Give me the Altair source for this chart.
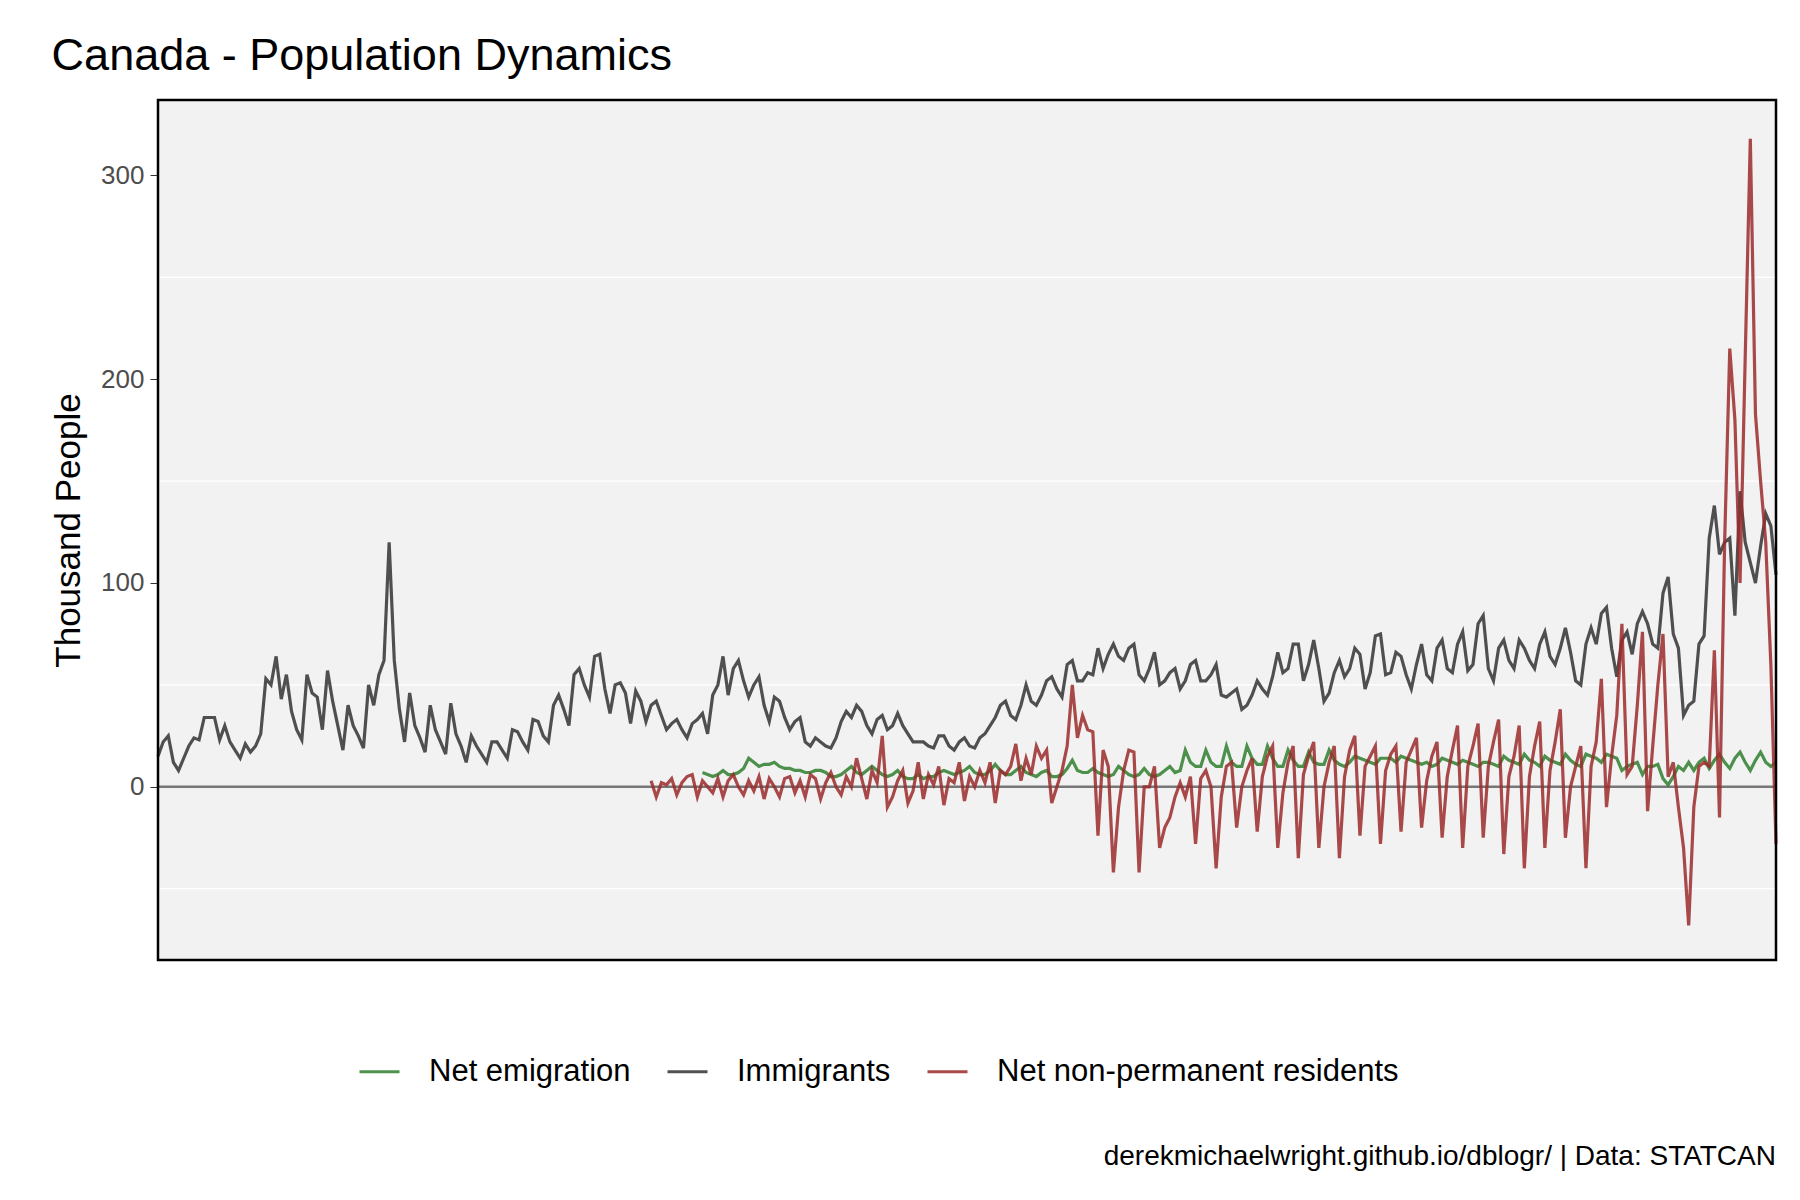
import altair as alt
import pandas as pd

immigrants = [15, 22, 25, 12, 8, 14, 20, 24, 23, 34, 34, 34, 23, 30, 22, 18, 14, 21, 17, 20, 26, 53, 50, 64, 43, 55, 37, 28, 23, 55, 46, 44, 28, 57, 42, 30, 18, 40, 30, 25,
 19, 50, 40, 55, 62, 120, 62, 38, 22, 46, 30, 24, 17, 40, 28, 22, 16, 41, 26, 20, 12, 25, 20, 16, 12, 22, 22, 18, 14, 28, 27, 22, 18, 33, 32, 25, 22, 40, 45, 38, 30, 55, 58, 50, 44, 64, 65, 48, 36, 50, 51, 46, 31, 47, 42, 32, 40, 42, 35, 28, 31, 33, 28, 24, 31, 33, 36, 26, 45, 50, 64, 45, 58, 62, 52, 44, 50, 54, 40, 32, 44, 42, 34, 28, 32, 34, 22, 20, 24, 22, 20, 19, 24, 32, 37, 34, 40, 37, 30, 26, 33, 35, 28, 30, 36, 30, 26, 22, 22, 22, 20, 19, 25, 25, 20, 18, 22, 24, 20, 19, 24, 26, 30, 34, 40, 42, 35, 33, 40, 50, 42, 40, 45, 52, 54, 48, 44, 60, 62, 52, 52, 56, 55, 68, 58, 65, 70, 64, 62, 68, 70, 55, 52, 58, 66, 50, 52, 56, 58, 48, 52, 60, 62, 52, 52, 55, 60, 45, 44, 46, 48, 38, 40, 45, 52, 48, 45, 54, 66, 56, 58, 70, 70, 52, 60, 72, 58, 42, 46, 56, 62, 54, 58, 68, 65, 48, 56, 74, 75, 55, 56, 66, 64, 55, 48, 60, 70, 55, 52, 68, 72, 58, 56, 70, 76, 57, 60, 80, 84, 58, 52, 68, 72, 62, 58, 72, 68, 62, 58, 70, 76, 64, 60, 68, 78, 66, 52, 50, 70, 78, 70, 85, 88, 68, 54, 72, 76, 65, 80, 86, 80, 70, 68, 95, 103, 75, 68, 35, 40, 42, 70, 74, 122, 138, 114, 120, 122, 84, 145, 120, 110, 100, 118, 134, 128, 104]

emigration = [7, 6, 5, 6, 8, 6, 6, 7, 9, 14, 12, 10, 11, 11, 12, 10, 9, 9, 8, 8, 7, 7, 8, 8, 7, 5, 5, 6, 8, 10, 7, 6, 8, 10, 8, 6, 5, 6, 8, 5, 4, 4, 6, 4, 5, 5, 7, 8, 7, 6, 7, 8, 10, 7, 6, 6, 8, 11, 8, 6, 6, 8, 10, 7, 6, 5, 7, 8, 5, 5, 6, 9, 13, 8, 7, 7, 9, 7, 6, 5, 6, 10, 8, 6, 5, 6, 9, 6, 5, 6, 8, 10, 7, 8, 18, 12, 10, 10, 18, 12, 10, 10, 20, 12, 10, 10, 20, 14, 11, 11, 20, 14, 10, 10, 18, 13, 10, 10, 17, 12, 11, 11, 18, 13, 11, 10, 12, 15, 14, 13, 12, 11, 14, 14, 14, 12, 15, 14, 13, 12, 11, 12, 10, 11, 14, 13, 12, 11, 13, 12, 11, 10, 12, 12, 11, 10, 15, 13, 12, 11, 16, 13, 12, 10, 15, 13, 12, 11, 16, 13, 11, 10, 16, 15, 14, 12, 16, 15, 14, 8, 10, 11, 12, 6, 10, 10, 11, 4, 1, 5, 10, 8, 12, 8, 12, 14, 9, 13, 16, 12, 9, 14, 17, 12, 8, 13, 17, 12, 10, 12]

npr = [3, -5, 2, 1, 4, -4, 2, 5, 6, -5, 3, 0, -3, 4, -5, 3, 6, 0, -4, 3, -2, 5, -6, 4, 0, -5, 4, 5, -3, 3, -5, 6, 4, -6, 2, 7, 0, -4, 5, 0, 14, 4, -6, 8, 2, 25, -10, -5, 3, 8, -8, -2, 12, -6, 6, 1, 10, -9, 4, 2, 12, -7, 5, 0, 8, 2, 12, -8, 8, 6, 10, 21, 3, 14, 6, 20, 14, 18, -8, 0, 8, 20, 50, 24, 35, 28, 27, -24, 18, 10, -42, -10, 8, 18, 17, -42, 0, 0, 10, -30, -20, -15, -5, 2, -5, 5, -28, 4, 8, 0, -40, -5, 10, 12, -20, 0, 8, 14, -22, 5, 15, 20, -30, -3, 12, 20, -35, 6, 15, 22, -30, 0, 12, 20, -35, 5, 18, 25, -24, 10, 15, 20, -28, 8, 16, 20, -22, 12, 18, 24, -20, 3, 15, 22, -25, 5, 18, 30, -30, 10, 20, 31, -25, 10, 22, 33, -33, 5, 15, 30, -40, 5, 20, 32, -30, 8, 22, 38, -25, 0, 10, 20, -40, 10, 22, 53, -10, 15, 35, 80, 6, 10, 40, 76, -12, 20, 50, 75, 5, 12, -10, -30, -68, -10, 10, 12, 10, 67, -15, 120, 215, 180, 100, 210, 318, 183, 150, 120, 60, -28]

series_names = ["Net emigration", "Immigrants", "Net non-permanent residents"]
series_colors = ["#2f7f2f", "#333333", "#9b2a2a"]
minor_grid = [-50, 50, 150, 250]

n = len(immigrants)
rows = []
for name, vals in [("Immigrants", immigrants), ("Net emigration", emigration), ("Net non-permanent residents", npr)]:
    start = n - len(vals)
    for i, v in enumerate(vals):
        rows.append({"t": 1946 + (start + i) / 4, "value": v, "series": name})
df = pd.DataFrame(rows)

W, H = 1618, 860
xscale = alt.Scale(domain=[1946, 1946 + (n - 1) / 4], nice=False, zero=False)
yscale = alt.Scale(domain=[-85, 337], nice=False)

bg = alt.Chart(pd.DataFrame({"a": [0]})).mark_rect(fill="#f2f2f2").encode(
    x=alt.value(0), x2=alt.value(W), y=alt.value(0), y2=alt.value(H))
border = alt.Chart(pd.DataFrame({"a": [0]})).mark_rect(fill=None, stroke="black", strokeWidth=2.5).encode(
    x=alt.value(0), x2=alt.value(W), y=alt.value(0), y2=alt.value(H))

minor = alt.Chart(pd.DataFrame({"y": minor_grid})).mark_rule(color="white", strokeWidth=1.2).encode(
    y=alt.Y("y:Q", scale=yscale))
zero = alt.Chart(pd.DataFrame({"y": [0]})).mark_rule(color="#777777", strokeWidth=2.5).encode(
    y=alt.Y("y:Q", scale=yscale))

lines = alt.Chart(df).mark_line(strokeWidth=3.2, opacity=0.85).encode(
    x=alt.X("t:Q", scale=xscale, axis=None),
    y=alt.Y("value:Q", scale=yscale, title="Thousand People",
            axis=alt.Axis(values=[0, 100, 200, 300], grid=True, gridColor="white", gridWidth=2.5,
                          labelFontSize=26, labelColor="#4d4d4d", titleFontSize=35, titleFontWeight="normal",
                          titleColor="black", tickColor="#333333", tickSize=8, domain=False, labelPadding=6,
                          titlePadding=14)),
    color=alt.Color("series:N", scale=alt.Scale(domain=series_names, range=series_colors),
                    legend=alt.Legend(title=None, orient="none", legendX=200, legendY=950, direction="horizontal",
                                      labelFontSize=31, labelColor="black", labelLimit=0, symbolType="stroke",
                                      symbolSize=1600, symbolStrokeWidth=3, columnPadding=30, labelOffset=28,
                                      symbolOpacity=0.85)),
    detail="series:N",
)

caption = alt.Chart(pd.DataFrame({"c": ["derekmichaelwright.github.io/dblogr/ | Data: STATCAN"]})).mark_text(
    align="right", baseline="middle", fontSize=28, font="Liberation Sans", color="black").encode(
    text="c:N", x=alt.value(W), y=alt.value(1057))

chart = alt.layer(bg, minor, zero, lines, border, caption).properties(
    width=W, height=H,
    title=alt.TitleParams("Canada - Population Dynamics", fontSize=45, fontWeight="normal", anchor="start",
                          font="Liberation Sans", color="black", offset=20),
    padding={"left": 150, "top": 92, "right": 16, "bottom": 232},
).configure_view(strokeWidth=0).configure(
    font="Liberation Sans", autosize=alt.AutoSizeParams(type="none"))

chart.save("out.html", embed_options={"renderer": "svg", "actions": False})
